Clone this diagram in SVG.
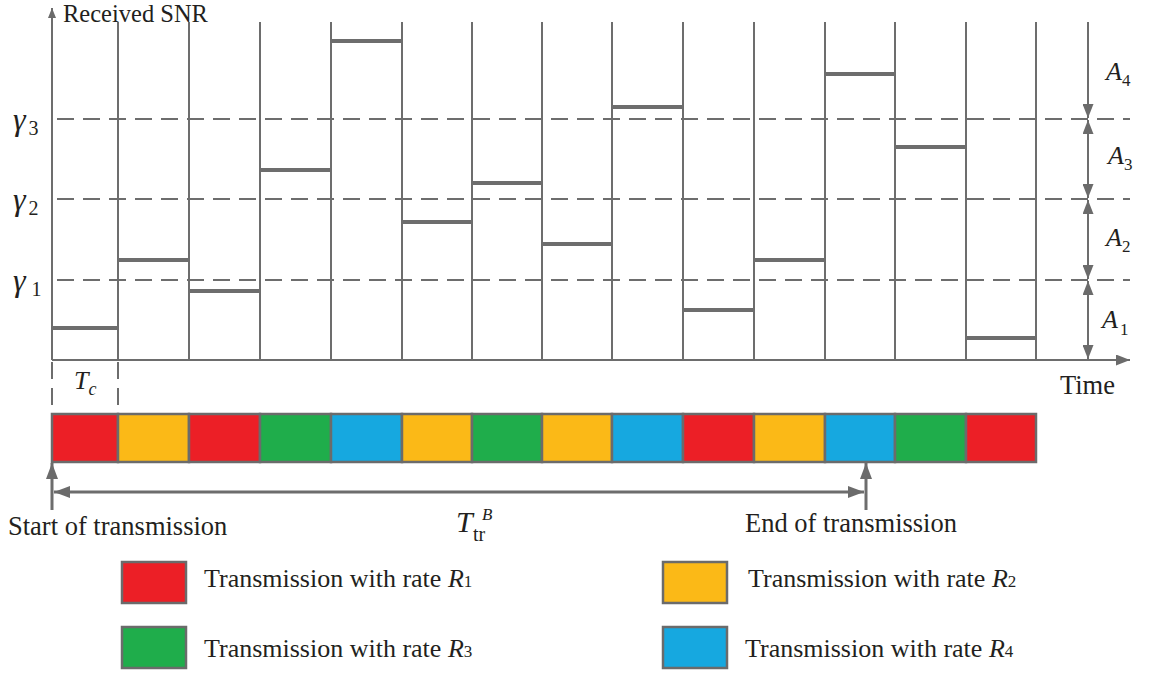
<svg xmlns="http://www.w3.org/2000/svg" width="1152" height="682" viewBox="0 0 1152 682" font-family="'Liberation Serif', 'DejaVu Serif', serif">
<defs>
<marker id="ah" viewBox="0 0 14 11" refX="14" refY="5.5" markerWidth="14" markerHeight="11" markerUnits="userSpaceOnUse" orient="auto-start-reverse">
<path d="M0,0 L14,5.5 L0,11 z" fill="#6b6b6b"/>
</marker>
<marker id="ahs" viewBox="0 0 10 8" refX="10" refY="4" markerWidth="10" markerHeight="8" markerUnits="userSpaceOnUse" orient="auto-start-reverse">
<path d="M0,0 L10,4 L0,8 z" fill="#6b6b6b"/>
</marker>
<marker id="ahb" viewBox="0 0 16 12" refX="16" refY="6" markerWidth="16" markerHeight="12" markerUnits="userSpaceOnUse" orient="auto-start-reverse">
<path d="M0,0 L16,6 L0,12 z" fill="#6b6b6b"/>
</marker>
</defs>
<style>
.ln{stroke:#6d6d6d;stroke-width:2;fill:none}
.lv{stroke:#6d6d6d;stroke-width:4;fill:none}
.dash{stroke:#6d6d6d;stroke-width:2;stroke-dasharray:17 9;fill:none}
.cell{stroke:#6b6b6b;stroke-width:2.5}
.r{fill:#ec1f26}.y{fill:#fbb917}.g{fill:#1fad4b}.b{fill:#16a8e0}
.tx{font-family:'Liberation Serif','DejaVu Serif',serif;fill:#231f20}
.t{font-size:26.5px}
.it{font-style:italic}
</style>
<rect width="1152" height="682" fill="#fff"/>
<g id="grid">
<path class="ln" d="M118,22V360M189,22V360M260,22V360M331,22V360M402,22V360M472,22V360M542,22V360M612,22V360M683,22V360M754,22V360M825,22V360M895,22V360M966,22V360M1036,22V360"/>
<path class="dash" d="M57,119H1130M57,199H1130M57,280H1130"/>
<path class="dash" d="M52,362V414M118,362V414"/>
</g>
<g id="axes">
<line class="ln" x1="52" y1="360" x2="52" y2="8" marker-end="url(#ahs)"/>
<line class="ln" x1="52" y1="360" x2="1130" y2="360" marker-end="url(#ah)"/>
</g>
<g id="snr-levels">
<path class="lv" d="M52,328H118M118,260H189M189,291H260M260,170H331M331,41H402M402,222H472M472,183H542M542,244H612M612,107H683M683,310H754M754,260H825M825,74H895M895,147H966M966,338H1036"/>
</g>
<g id="connectors">
<line class="ln" x1="1088" y1="22" x2="1088" y2="118" marker-end="url(#ah)"/>
<line class="ln" x1="1088" y1="120" x2="1088" y2="198" marker-start="url(#ah)" marker-end="url(#ah)"/>
<line class="ln" x1="1088" y1="200" x2="1088" y2="279" marker-start="url(#ah)" marker-end="url(#ah)"/>
<line class="ln" x1="1088" y1="281" x2="1088" y2="359" marker-start="url(#ah)" marker-end="url(#ah)"/>
<line class="ln" x1="52" y1="510" x2="52" y2="463" marker-end="url(#ahb)" style="stroke-width:3"/>
<line class="ln" x1="866" y1="510" x2="866" y2="463" marker-end="url(#ahb)" style="stroke-width:3"/>
<line class="ln" x1="54" y1="492" x2="864" y2="492" marker-start="url(#ahb)" marker-end="url(#ahb)" style="stroke-width:3"/>
</g>
<g id="bar">
<rect class="cell r" x="52" y="414" width="66" height="48"/>
<rect class="cell y" x="118" y="414" width="71" height="48"/>
<rect class="cell r" x="189" y="414" width="71" height="48"/>
<rect class="cell g" x="260" y="414" width="71" height="48"/>
<rect class="cell b" x="331" y="414" width="71" height="48"/>
<rect class="cell y" x="402" y="414" width="70" height="48"/>
<rect class="cell g" x="472" y="414" width="70" height="48"/>
<rect class="cell y" x="542" y="414" width="70" height="48"/>
<rect class="cell b" x="612" y="414" width="71" height="48"/>
<rect class="cell r" x="683" y="414" width="71" height="48"/>
<rect class="cell y" x="754" y="414" width="71" height="48"/>
<rect class="cell b" x="825" y="414" width="70" height="48"/>
<rect class="cell g" x="895" y="414" width="71" height="48"/>
<rect class="cell r" x="966" y="414" width="70" height="48"/>
</g>
<g id="labels">
<text x="63" y="22" class="tx" font-size="24.5">Received SNR</text>
<text x="1060" y="394" class="tx t">Time</text>
<text x="13" y="130" class="tx" font-size="32"><tspan class="it">γ</tspan><tspan dx="3" dy="5" font-size="20">3</tspan></text>
<text x="13" y="210" class="tx" font-size="32"><tspan class="it">γ</tspan><tspan dx="3" dy="5" font-size="20">2</tspan></text>
<text x="13" y="291" class="tx" font-size="32"><tspan class="it">γ</tspan><tspan dx="6" dy="5" font-size="20">1</tspan></text>
<text x="1106" y="80" class="tx" font-size="26"><tspan class="it">A</tspan><tspan dy="6" font-size="17">4</tspan></text>
<text x="1108" y="164" class="tx" font-size="26"><tspan class="it">A</tspan><tspan dy="6" font-size="17">3</tspan></text>
<text x="1106" y="246" class="tx" font-size="26"><tspan class="it">A</tspan><tspan dy="6" font-size="17">2</tspan></text>
<text x="1102" y="328" class="tx" font-size="26"><tspan class="it">A</tspan><tspan dx="2" dy="7" font-size="17">1</tspan></text>
<text x="74" y="389" class="tx" font-size="26"><tspan class="it">T</tspan><tspan dy="6" class="it" font-size="18">c</tspan></text>
<text x="8" y="535" class="tx t">Start of transmission</text>
<text x="745" y="532" class="tx t">End of transmission</text>
<text x="456" y="532" class="tx it" font-size="30">T</text>
<text x="473" y="541" class="tx" font-size="20">tr</text>
<text x="482" y="520" class="tx it" font-size="17">B</text>
</g>
<g id="legend">
<rect class="cell r" x="122" y="562" width="64" height="41"/>
<text x="204" y="587" class="tx" font-size="26">Transmission with rate <tspan class="it">R</tspan><tspan font-size="17">1</tspan></text>
<rect class="cell y" x="663" y="562" width="64" height="41"/>
<text x="748" y="587" class="tx" font-size="26">Transmission with rate <tspan class="it">R</tspan><tspan font-size="17">2</tspan></text>
<rect class="cell g" x="122" y="627" width="64" height="41"/>
<text x="204" y="657" class="tx" font-size="26">Transmission with rate <tspan class="it">R</tspan><tspan font-size="17">3</tspan></text>
<rect class="cell b" x="663" y="627" width="64" height="41"/>
<text x="745" y="657" class="tx" font-size="26">Transmission with rate <tspan class="it">R</tspan><tspan font-size="17">4</tspan></text>
</g>
</svg>
